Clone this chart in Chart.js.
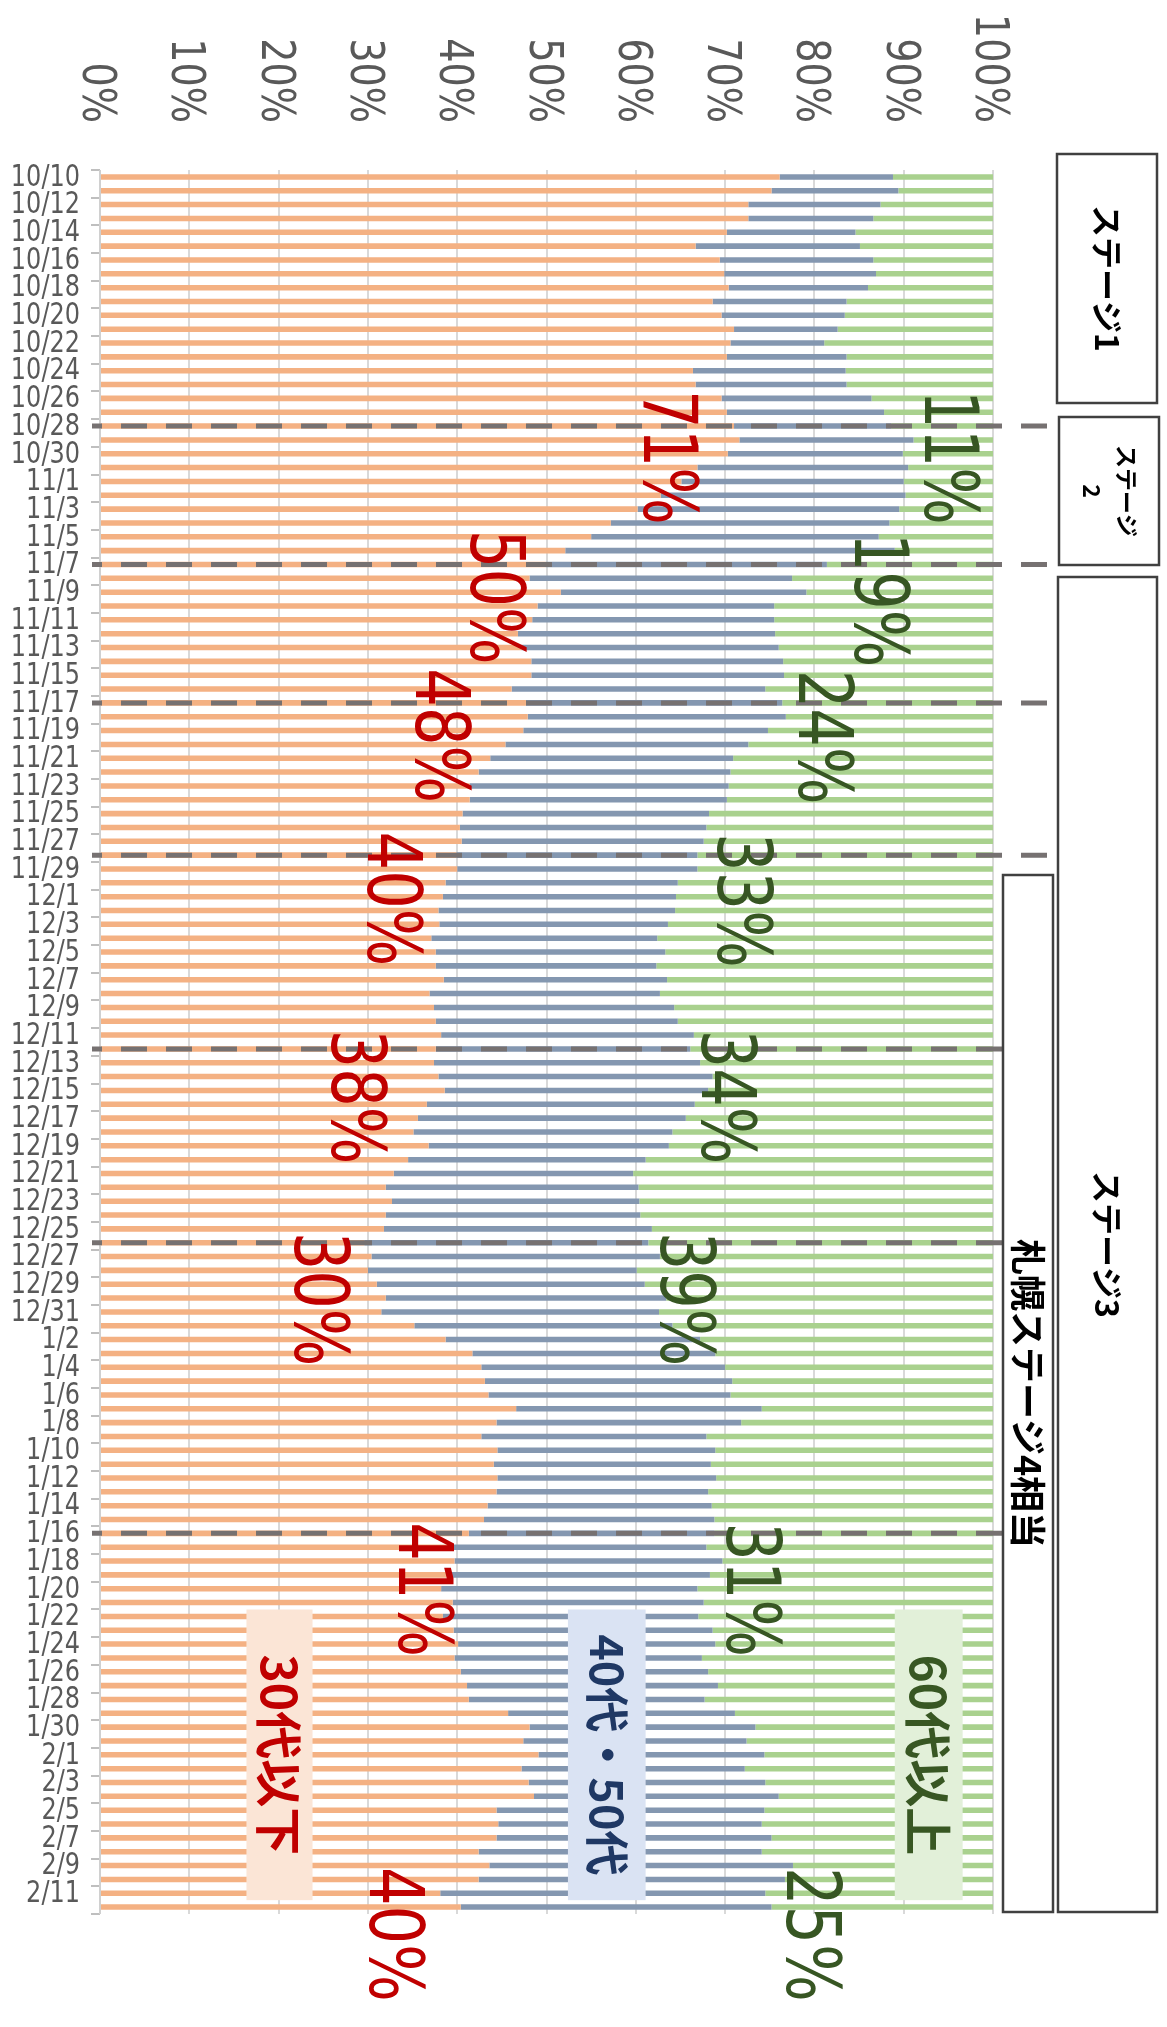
<!DOCTYPE html>
<html>
<head>
<meta charset="utf-8">
<script src="https://cdn.jsdelivr.net/npm/chart.js@4/dist/chart.umd.min.js"></script>
<style>
  html, body { margin: 0; padding: 0; background: #ffffff; }
  canvas { display: block; }
</style>
</head>
<body>
<canvas id="c" width="1167" height="2027"></canvas>
<script>
// Daily categories, 10/10 to 2/12
const dates = [
  '10/10','10/11','10/12','10/13','10/14','10/15','10/16','10/17','10/18','10/19','10/20',
  '10/21','10/22','10/23','10/24','10/25','10/26','10/27','10/28','10/29','10/30','10/31',
  '11/1','11/2','11/3','11/4','11/5','11/6','11/7','11/8','11/9','11/10',
  '11/11','11/12','11/13','11/14','11/15','11/16','11/17','11/18','11/19','11/20',
  '11/21','11/22','11/23','11/24','11/25','11/26','11/27','11/28','11/29','11/30',
  '12/1','12/2','12/3','12/4','12/5','12/6','12/7','12/8','12/9','12/10',
  '12/11','12/12','12/13','12/14','12/15','12/16','12/17','12/18','12/19','12/20',
  '12/21','12/22','12/23','12/24','12/25','12/26','12/27','12/28','12/29','12/30','12/31',
  '1/1','1/2','1/3','1/4','1/5','1/6','1/7','1/8','1/9','1/10',
  '1/11','1/12','1/13','1/14','1/15','1/16','1/17','1/18','1/19','1/20',
  '1/21','1/22','1/23','1/24','1/25','1/26','1/27','1/28','1/29','1/30','1/31',
  '2/1','2/2','2/3','2/4','2/5','2/6','2/7','2/8','2/9','2/10','2/11','2/12'
];

// Share of new cases by age group (%)
const under30 = [
  76.1,75.2,72.6,72.6,70.2,66.7,69.4,69.9,70.4,68.6,69.6,
  71.0,70.6,70.2,66.4,66.7,69.6,70.2,71.0,71.6,70.3,66.9,
  65.1,62.8,60.2,57.2,55.0,52.1,49.9,48.1,51.6,49.0,
  48.4,46.8,47.2,48.3,48.3,46.1,47.7,47.9,47.4,45.4,
  43.7,42.4,41.4,41.4,40.6,40.3,40.5,39.9,40.0,38.7,
  38.4,37.9,38.0,37.1,37.6,37.6,38.5,36.9,37.4,37.6,
  38.2,37.6,37.4,37.9,38.6,36.6,35.6,35.1,36.8,34.5,
  32.9,32.0,32.7,32.0,31.8,29.6,30.4,30.0,31.0,32.0,31.5,
  35.2,38.7,41.7,42.7,43.1,43.5,46.6,44.4,42.7,44.5,
  44.1,44.5,44.4,43.4,43.0,41.3,39.4,39.7,39.1,38.2,
  39.5,38.4,39.6,40.1,39.7,40.4,41.1,41.3,45.7,48.1,47.4,
  49.1,47.2,48.0,48.6,44.4,44.6,44.4,42.4,43.6,42.4,38.1,40.4
];
const age40to50 = [
  12.7,14.2,14.8,14.0,14.4,18.4,17.2,17.0,15.6,15.0,13.8,
  11.6,10.5,13.4,17.1,16.9,16.8,17.6,17.6,19.5,19.6,23.6,
  24.9,27.4,29.3,31.2,32.2,36.9,31.5,29.4,27.5,26.5,
  27.1,28.8,28.8,28.2,28.3,28.4,28.7,28.9,27.4,27.2,
  27.2,28.2,29.0,28.8,27.6,27.6,27.1,27.0,26.9,26.0,
  26.1,26.5,25.6,25.3,25.7,24.7,25.0,25.8,26.9,27.1,
  28.3,28.5,29.8,30.7,29.5,30.0,30.0,29.0,26.9,26.6,
  26.8,28.3,27.7,28.5,30.0,31.8,32.3,30.1,30.0,31.4,31.1,
  28.9,28.5,27.2,27.3,27.7,27.1,27.5,27.4,25.2,24.4,
  24.3,24.5,23.7,25.1,25.8,27.5,28.5,30.0,29.2,28.7,
  28.1,28.6,29.0,28.8,27.7,27.7,28.1,26.4,25.4,25.3,25.0,
  25.3,25.0,26.5,27.4,30.0,29.5,30.8,31.7,34.0,34.3,36.4,34.8
];
const over60 = [
  11.2,10.6,12.6,13.4,15.4,14.9,13.4,13.1,14.0,16.4,16.6,
  17.4,18.9,16.4,16.5,16.4,13.6,12.2,11.4,8.9,10.1,9.5,
  10.0,9.8,10.5,11.6,12.8,11.0,18.6,22.5,20.9,24.5,
  24.5,24.4,24.0,23.5,23.4,25.5,23.6,23.2,25.2,27.4,
  29.1,29.4,29.6,29.8,31.8,32.1,32.4,33.1,33.1,35.3,
  35.5,35.6,36.4,37.6,36.7,37.7,36.5,37.3,35.7,35.3,
  33.5,33.9,32.8,31.4,31.9,33.4,34.4,35.9,36.3,38.9,
  40.3,39.7,39.6,39.5,38.2,38.6,37.3,39.9,39.0,36.6,37.4,
  35.9,32.8,31.1,30.0,29.2,29.4,25.9,28.2,32.1,31.1,
  31.6,31.0,31.9,31.5,31.2,31.2,32.1,30.3,31.7,33.1,
  32.4,33.0,31.4,31.1,32.6,31.9,30.8,32.3,28.9,26.6,27.6,
  25.6,27.8,25.5,24.0,25.6,25.9,24.8,25.9,22.4,23.3,25.5,24.8
];

const seriesNames = ['30代以下', '40代・50代', '60代以上'];
const axisTicks = [0, 10, 20, 30, 40, 50, 60, 70, 80, 90, 100];
const axisTickLabels = ['0%', '10%', '20%', '30%', '40%', '50%', '60%', '70%', '80%', '90%', '100%'];

// Dates where a stage period changes
const dividerDates = ['10/28', '11/7', '11/17', '11/28', '12/12', '12/26', '1/16'];
const dividerEnds = [1047, 1047, 1047, 1047, 1003, 1003, 1003];

// Period call-outs: which bar and series they quote, where they sit (x in %, y in category units)
const callouts = [
  { date: '10/28', series: 0, pct: 63.9, at: 15.4 },
  { date: '10/28', series: 2, pct: 95.4, at: 15.4 },
  { date: '11/7',  series: 0, pct: 44.6, at: 25.5 },
  { date: '11/7',  series: 2, pct: 87.6, at: 25.7 },
  { date: '11/17', series: 0, pct: 38.4, at: 35.5 },
  { date: '11/17', series: 2, pct: 81.3, at: 35.6 },
  { date: '11/28', series: 0, pct: 33.0, at: 47.3 },
  { date: '11/28', series: 2, pct: 72.2, at: 47.4 },
  { date: '12/12', series: 0, pct: 29.0, at: 61.6 },
  { date: '12/12', series: 2, pct: 70.4, at: 61.6 },
  { date: '12/26', series: 0, pct: 24.9, at: 76.2 },
  { date: '12/26', series: 2, pct: 65.8, at: 76.2 },
  { date: '1/16',  series: 0, pct: 36.5, at: 97.2 },
  { date: '1/16',  series: 2, pct: 73.2, at: 97.2 },
  { date: '2/12',  series: 0, pct: 33.3, at: 122.1 },
  { date: '2/12',  series: 2, pct: 80.0, at: 122.1 }
];

// In-plot series name tags
const nameTags = [
  { series: 0, from: 16.4, to: 23.8, bg: '#FBE5D6', color: '#C00000', size: 48 },
  { series: 1, from: 52.4, to: 61.1, bg: '#DAE3F3', color: '#1F3864', size: 45 },
  { series: 2, from: 89.0, to: 96.6, bg: '#E2F0D9', color: '#385723', size: 48 }
];
const nameTagRows = [103.5, 124.5];

// Stage boxes on the right
const stageBoxes = [
  { x: 1057, y: 154, w: 100, h: 249, lines: ['ステージ1'], size: 32, gap: 0 },
  { x: 1059, y: 417, w: 100, h: 148, lines: ['ステージ', '2'], size: 23, gap: 35 },
  { x: 1058, y: 577, w: 99, h: 1335, lines: ['ステージ3'], size: 32, gap: 0 },
  { x: 1003, y: 875, w: 50, h: 1037, lines: ['札幌ステージ4相当'], size: 36, gap: 0 }
];

const seriesData = [under30, age40to50, over60];
const calloutColors = ['#C00000', '#375623', '#375623'];
const NUM_FONT = '"DejaVu Sans", "Liberation Sans", sans-serif';
const JP_FONT = '"Noto Sans CJK JP", "Noto Sans CJK SC", sans-serif';

function rotatedText(ctx, text, x, y, opts) {
  ctx.save();
  ctx.translate(x, y);
  ctx.rotate(Math.PI / 2);
  ctx.scale(opts.squeeze || 1, 1);
  ctx.font = opts.font;
  ctx.fillStyle = opts.color;
  ctx.textAlign = opts.align || 'left';
  ctx.textBaseline = opts.baseline || 'alphabetic';
  ctx.fillText(text, 0, opts.dy || 0);
  ctx.restore();
}

const decor = {
  id: 'decor',
  beforeDatasetsDraw(chart) {
    const { ctx, chartArea: a, scales: { x, y } } = chart;
    ctx.save();
    // vertical grid
    ctx.strokeStyle = '#D9D9D9';
    ctx.lineWidth = 2;
    axisTicks.forEach(v => {
      const px = Math.round(x.getPixelForValue(v));
      ctx.beginPath();
      ctx.moveTo(px, a.top);
      ctx.lineTo(px, a.bottom);
      ctx.stroke();
    });
    // category tick marks, one per pair of days
    const band = y.getPixelForValue(1) - y.getPixelForValue(0);
    ctx.strokeStyle = '#BFBFBF';
    ctx.lineWidth = 2;
    for (let i = 0; i <= dates.length; i += 2) {
      const py = Math.round(y.getPixelForValue(0) + (i - 0.5) * band);
      ctx.beginPath();
      ctx.moveTo(a.left - 9, py);
      ctx.lineTo(a.left, py);
      ctx.stroke();
    }
    ctx.restore();
  },
  afterDatasetsDraw(chart) {
    const { ctx, chartArea: a, scales: { x, y } } = chart;
    const y0 = y.getPixelForValue(0);
    const band = y.getPixelForValue(1) - y0;
    const yAt = f => y0 + f * band;

    // left axis line
    ctx.save();
    ctx.strokeStyle = '#D0D0D0';
    ctx.lineWidth = 2;
    ctx.beginPath();
    ctx.moveTo(Math.round(a.left), a.top);
    ctx.lineTo(Math.round(a.left), a.bottom);
    ctx.stroke();

    // stage dividers
    ctx.strokeStyle = '#767171';
    ctx.lineWidth = 5;
    ctx.setLineDash([26, 19]);
    ctx.lineDashOffset = 16;
    dividerDates.forEach((d, k) => {
      const py = y.getPixelForValue(dates.indexOf(d));
      ctx.beginPath();
      ctx.moveTo(92, py);
      ctx.lineTo(dividerEnds[k], py);
      ctx.stroke();
    });
    ctx.setLineDash([]);
    ctx.restore();

    // series name tags
    nameTags.forEach(t => {
      const xl = x.getPixelForValue(t.from), xr = x.getPixelForValue(t.to);
      const yt = yAt(nameTagRows[0]), yb = yAt(nameTagRows[1]);
      ctx.fillStyle = t.bg;
      ctx.fillRect(xl, yt, xr - xl, yb - yt);
      rotatedText(ctx, seriesNames[t.series], (xl + xr) / 2, (yt + yb) / 2, {
        font: 'bold ' + t.size + 'px ' + JP_FONT, color: t.color,
        align: 'center', baseline: 'middle'
      });
    });

    // period call-outs
    callouts.forEach(c => {
      const v = seriesData[c.series][dates.indexOf(c.date)];
      rotatedText(ctx, Math.round(v) + '%', x.getPixelForValue(c.pct), yAt(c.at), {
        font: '74px ' + NUM_FONT, color: calloutColors[c.series],
        squeeze: 0.82, dy: 27
      });
    });

    // percent axis labels along the top
    axisTicks.forEach((v, k) => {
      rotatedText(ctx, axisTickLabels[k], x.getPixelForValue(v), a.top - 47, {
        font: '46px ' + NUM_FONT, color: '#595959',
        squeeze: 0.83, align: 'right', dy: 17
      });
    });

    // date labels, every second day
    ctx.save();
    ctx.fillStyle = '#595959';
    ctx.font = '30px ' + NUM_FONT;
    ctx.textAlign = 'right';
    ctx.textBaseline = 'middle';
    dates.forEach((d, i) => {
      if (i % 2) return;
      ctx.save();
      ctx.translate(a.left - 20, y.getPixelForValue(i) + 1);
      ctx.scale(0.8, 1);
      ctx.fillText(d, 0, 0);
      ctx.restore();
    });
    ctx.restore();

    // stage boxes
    stageBoxes.forEach(b => {
      ctx.save();
      ctx.fillStyle = '#FFFFFF';
      ctx.fillRect(b.x, b.y, b.w, b.h);
      ctx.strokeStyle = '#404040';
      ctx.lineWidth = 2.5;
      ctx.strokeRect(b.x, b.y, b.w, b.h);
      ctx.restore();
      const cx = b.x + b.w / 2, cy = b.y + b.h / 2;
      const n = b.lines.length;
      b.lines.forEach((ln, k) => {
        const off = (k - (n - 1) / 2) * b.gap;
        rotatedText(ctx, ln, cx - off, cy, {
          font: 'bold ' + b.size + 'px ' + JP_FONT, color: '#000000',
          align: 'center', baseline: 'middle'
        });
      });
    });
  }
};

new Chart(document.getElementById('c'), {
  type: 'bar',
  data: {
    labels: dates,
    datasets: [
      { label: seriesNames[0], data: under30,   backgroundColor: '#F4B183' },
      { label: seriesNames[1], data: age40to50, backgroundColor: '#8497B0' },
      { label: seriesNames[2], data: over60,    backgroundColor: '#A9D18E' }
    ]
  },
  options: {
    indexAxis: 'y',
    responsive: false,
    animation: false,
    devicePixelRatio: 1,
    layout: { padding: { left: 100, top: 170, right: 174, bottom: 113 } },
    datasets: { bar: { barPercentage: 0.4, categoryPercentage: 1.0, borderWidth: 0 } },
    plugins: { legend: { display: false }, tooltip: { enabled: false } },
    scales: {
      x: { stacked: true, min: 0, max: 100, display: false },
      y: { stacked: true, display: false }
    }
  },
  plugins: [decor]
});
</script>
</body>
</html>
